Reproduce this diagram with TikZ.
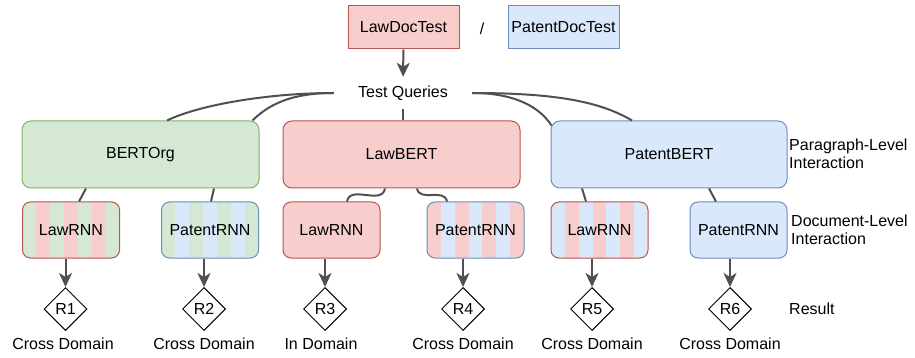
\documentclass[tikz,border=0pt]{standalone}
\usepackage{fontspec}
\setmainfont{Liberation Sans}
\usetikzlibrary{shapes.geometric,arrows.meta,calc}
\definecolor{lawfill}{HTML}{F8CECC}
\definecolor{lawline}{HTML}{B85450}
\definecolor{patfill}{HTML}{DAE8FC}
\definecolor{patline}{HTML}{6C8EBF}
\definecolor{orgfill}{HTML}{D5E8D4}
\definecolor{orgline}{HTML}{82B366}
\definecolor{wire}{HTML}{505050}

\begin{document}
\begin{tikzpicture}[x=1pt,y=-1pt,
	every node/.style={font=\fontsize{16}{18}\selectfont,inner sep=0pt},
	doc/.style={draw,line width=1pt,minimum width=111pt,minimum height=43pt},
	bert/.style={draw,line width=1pt,rounded corners=9pt,minimum width=237pt,minimum height=67pt},
	rnn/.style={draw,line width=1pt,rounded corners=8pt,minimum width=97pt,minimum height=56pt},
	law/.style={fill=lawfill,draw=lawline},
	pat/.style={fill=patfill,draw=patline},
	org/.style={fill=orgfill,draw=orgline},
	stripes/.style 2 args={fill=#2,path picture={
		\foreach \i in {0,2,4,6}
			\fill[#1,sharp corners] ($(path picture bounding box.south west)!\i/7!(path picture bounding box.south east)$)
				rectangle ($(path picture bounding box.north west)!{(\i+1)/7}!(path picture bounding box.north east)$);}},
	res/.style={diamond,draw,line width=1pt,minimum size=43pt},
	link/.style={draw=wire,line width=2pt},
	arr/.style={link,-{Stealth[length=14pt,width=13pt,inset=4pt]}}]
	\useasboundingbox (0,0) rectangle (915,358);
	
	% test sets
	\node[doc,law] at (403.5,27.5)(lawdoc){LawDocTest};
	\node at (482,29)(slash){/};
	\node[doc,pat] at (563.5,27.5)(patdoc){PatentDocTest};
	\node[minimum width=138pt,minimum height=32pt] at (403,93)(tq){Test Queries};
	\draw[arr](lawdoc)--(tq);
	
	% paragraph level
	\node[bert,org] at (140.5,154.5)(bertorg){BERTOrg};
	\node[bert,law] at (401.5,154.5)(lawbert){LawBERT};
	\node[bert,pat,minimum width=236pt] at (669,154.5)(patbert){PatentBERT};
	\node[anchor=west,align=left] at (789,154)(para){Paragraph-Level\\Interaction};
	\draw[link](tq.west)..controls +(-64,0) and +(33,-16)..([xshift=26.5pt]bertorg.north);
	\draw[link](tq.west)..controls +(-35,0) and +(20,-20)..([xshift=112pt]bertorg.north);
	\draw[link](tq.south)--(tq.south|-lawbert.north);
	\draw[link](tq.east)..controls +(35,0) and +(-15,-23)..([xshift=1pt,yshift=-5pt]patbert.north west);
	\draw[link](tq.east)..controls +(83,0) and +(-32,-19)..([xshift=-37pt]patbert.north);
	
	% document level
	\node[rnn,draw=lawline,stripes={orgfill}{lawfill}] at (71,230)(rnn1){LawRNN};
	\node[rnn,draw=patline,stripes={orgfill}{patfill}] at (210,230)(rnn2){PatentRNN};
	\node[rnn,law] at (331.5,230)(rnn3){LawRNN};
	\node[rnn,draw=patline,stripes={lawfill}{patfill}] at (475.5,230)(rnn4){PatentRNN};
	\node[rnn,draw=lawline,stripes={patfill}{lawfill}] at (599.5,230)(rnn5){LawRNN};
	\node[rnn,pat] at (738.5,230)(rnn6){PatentRNN};
	\node[anchor=west,align=left] at (791,230)(docl){Document-Level\\Interaction};
	\draw[link]([xshift=-54.5pt]bertorg.south)--([xshift=8pt]rnn1.north);
	\draw[link]([xshift=73.5pt]bertorg.south)--([xshift=1pt]rnn2.north);
	\draw[link]([xshift=-16.5pt]lawbert.south)to[out=-100,in=80,looseness=1.1]([xshift=15.5pt]rnn3.north);
	\draw[link]([xshift=15.5pt]lawbert.south)to[out=-80,in=100,looseness=1.1]([xshift=-28.5pt]rnn4.north);
	\draw[link]([xshift=-87pt]patbert.south)--([xshift=-13.5pt]rnn5.north);
	\draw[link]([xshift=40pt]patbert.south)--([xshift=-22.5pt]rnn6.north);
	
	% results
	\node[res] at (65.5,309)(r1){R1};
	\node[res] at (204,309)(r2){R2};
	\node[res] at (325,309)(r3){R3};
	\node[res] at (463,309)(r4){R4};
	\node[res] at (592,309)(r5){R5};
	\node[res] at (730,309)(r6){R6};
	\node[anchor=west] at (789,309)(result){Result};
	\foreach \n in {1,...,6}
		\draw[arr](rnn\n.south-|r\n)--(r\n.north);
	
	\node at (63,344)(d1){Cross Domain};
	\node at (204,344)(d2){Cross Domain};
	\node at (321,344)(d3){In Domain};
	\node at (463,344)(d4){Cross Domain};
	\node at (592,344)(d5){Cross Domain};
	\node at (730,344)(d6){Cross Domain};
\end{tikzpicture}
\end{document}
